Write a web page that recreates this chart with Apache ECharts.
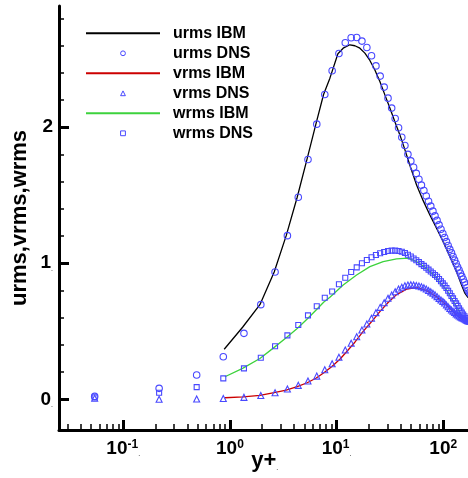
<!DOCTYPE html>
<html>
<head>
<meta charset="utf-8">
<script src="https://cdn.jsdelivr.net/npm/echarts@6.0.0/dist/echarts.min.js"></script>
<style>html,body{margin:0;padding:0;background:#fff}#c{width:468px;height:478px}</style>
</head>
<body>
<div id="c"></div>
<script>
// ---- DNS wall-normal positions (y+) ----
const dnsYPlus = [0.054,0.217,0.488,0.867,1.354,1.948,2.650,3.459,4.374,5.394,6.520,7.751,9.085,10.52,12.06,13.70,15.44,17.28,19.22,21.25,23.38,25.61,27.93,30.34,32.84,35.42,38.10,40.86,43.70,46.63,49.64,52.72,55.88,59.12,62.43,65.81,69.26,72.77,76.36,80.00,83.70,87.46,91.28,95.15,99.07,103.0,107.1,111.1,115.2,119.4,123.5,127.7,132.0,136.3,140.6,144.9,149.2,153.6,158.0,162.4,166.8,171.2,175.6,180.0];
const urmsDNS = [0.022,0.081,0.179,0.313,0.485,0.696,0.936,1.203,1.485,1.762,2.022,2.240,2.414,2.541,2.620,2.657,2.659,2.632,2.585,2.524,2.450,2.375,2.294,2.213,2.140,2.063,1.995,1.926,1.865,1.800,1.752,1.705,1.660,1.617,1.574,1.534,1.494,1.456,1.420,1.383,1.348,1.315,1.282,1.250,1.219,1.189,1.159,1.131,1.102,1.076,1.050,1.023,0.998,0.973,0.950,0.927,0.904,0.882,0.860,0.840,0.820,0.800,0.785,0.775];
const vrmsDNS = [0.008,0.001,0.003,0.006,0.015,0.029,0.049,0.076,0.103,0.135,0.171,0.218,0.262,0.309,0.363,0.412,0.460,0.510,0.554,0.596,0.637,0.676,0.710,0.743,0.767,0.791,0.811,0.824,0.835,0.840,0.842,0.840,0.837,0.833,0.827,0.820,0.811,0.800,0.790,0.780,0.768,0.755,0.742,0.730,0.720,0.708,0.694,0.680,0.668,0.657,0.648,0.638,0.628,0.620,0.613,0.606,0.600,0.596,0.590,0.585,0.580,0.577,0.575,0.574];
const wrmsDNS = [0.015,0.049,0.090,0.154,0.228,0.306,0.390,0.470,0.546,0.617,0.684,0.747,0.793,0.846,0.894,0.936,0.970,1.000,1.024,1.044,1.061,1.074,1.083,1.090,1.093,1.093,1.090,1.085,1.075,1.063,1.050,1.035,1.022,1.008,0.994,0.981,0.967,0.953,0.940,0.927,0.914,0.901,0.884,0.868,0.852,0.836,0.818,0.798,0.780,0.760,0.742,0.723,0.705,0.687,0.670,0.653,0.637,0.624,0.611,0.598,0.587,0.580,0.576,0.575];

// ---- IBM curves ----
const ibmUYPlus = [0.884,1.315,1.911,2.601,3.371,4.273,5.27,6.397,7.55,8.656,10.29,11.53,13.32,14.84,16.53,18.42,20.52,22.85,25.46,28.36,31.59,35.19,39.2,42.73,48.64,56.21,64.8,74.89,86.51,99.78,115.3,133.2,148.4,159.4,170.1,180];
const urmsIBM = [0.368,0.53,0.696,0.936,1.203,1.485,1.762,2.022,2.24,2.36,2.539,2.58,2.605,2.598,2.58,2.544,2.49,2.42,2.335,2.237,2.14,2.04,1.943,1.857,1.72,1.575,1.46,1.355,1.257,1.159,1.049,0.938,0.84,0.78,0.75,0.74];
const ibmVYPlus = [0.898,1.332,1.911,2.601,3.371,4.273,5.302,6.397,7.603,8.979,10.74,12.41,14.84,17.76,21.24,25.46,30.25,36.51,45.29,56.21,69.73,86.51,107.4,133.2,165.4,180];
const vrmsIBM = [0.012,0.019,0.029,0.049,0.068,0.093,0.122,0.155,0.195,0.24,0.295,0.35,0.42,0.50,0.57,0.645,0.71,0.77,0.81,0.821,0.80,0.754,0.693,0.62,0.563,0.555];
const ibmWYPlus = [0.898,1.315,1.911,2.601,3.371,4.273,5.302,6.397,7.603,8.656,11.53,15.40,20.52,27.34,36.51,46.88,56.21,69.73,86.51,107.4,133.2,165.4,180];
const wrmsIBM = [0.166,0.228,0.30,0.382,0.453,0.52,0.59,0.655,0.715,0.75,0.84,0.914,0.975,1.012,1.032,1.037,1.012,0.963,0.89,0.804,0.68,0.56,0.55];

// ---- ticks / labels ----
const xMajorTicks = [0.1, 1, 10, 100];
const xTickExps = ['-1', '0', '1', '2'];
const xTickDots = ['.', '', '.', ''];
const xMinorTicks = [0.03,0.04,0.05,0.06,0.07,0.08,0.09,0.2,0.3,0.4,0.5,0.6,0.7,0.8,0.9,2,3,4,5,6,7,8,9,20,30,40,50,60,70,80,90];
const yMajorTicks = [0, 1, 2];
const yTickLabels = ['0', '1', '2'];
const yTickDots = ['.', '.', ''];
const yMinorTicks = [0.2,0.4,0.6,0.8,1.2,1.4,1.6,1.8,2.2,2.4,2.6,2.8];
const seriesNames = ['urms IBM','urms DNS','vrms IBM','vrms DNS','wrms IBM','wrms DNS'];

const FONT = '"Liberation Sans", Arial, sans-serif';
const BLUE = '#4848ff';
const CLEAR = 'rgba(0,0,0,0)';
const pairs = (xs, ys) => xs.map((x, i) => [x, ys[i]]);

function ibm(name, xs, ys, color) {
  return { name, type: 'line', xAxisIndex: 0, yAxisIndex: 0, data: pairs(xs, ys), symbol: 'none',
    lineStyle: { color, width: 1.3 }, itemStyle: { color }, animation: false, z: 2, silent: true };
}
function dns(name, ys, symbol, size) {
  return { name, type: 'line', xAxisIndex: 0, yAxisIndex: 0, data: pairs(dnsYPlus, ys), symbol, symbolSize: size,
    showSymbol: true, lineStyle: { opacity: 0, width: 0 },
    itemStyle: { color: CLEAR, borderColor: BLUE, borderWidth: 1.1 }, animation: false, z: 3, silent: true };
}
const dnsLegendStyle = { color: CLEAR, borderColor: BLUE, borderWidth: 1 };

const chart = echarts.init(document.getElementById('c'), null, { renderer: 'canvas' });
const xMin = 0.025, xMax = 180, yMin = -0.225, yMax = 2.89;

chart.setOption({
  animation: false,
  backgroundColor: '#fff',
  textStyle: { fontFamily: FONT },
  grid: { left: 59, top: 6, right: -2.5, bottom: 48, outerBoundsMode: 'none', containLabel: false },
  legend: {
    orient: 'vertical', left: 85, top: 25.3, padding: 0, itemWidth: 74, itemHeight: 6, itemGap: 4.0,
    selectedMode: false,
    textStyle: { fontFamily: FONT, fontWeight: 'bold', fontSize: 16, color: '#000', padding: [0, 0, 0, 8] },
    data: [
      { name: seriesNames[0], itemStyle: { opacity: 0 } },
      { name: seriesNames[1], lineStyle: { opacity: 0 }, itemStyle: dnsLegendStyle },
      { name: seriesNames[2], itemStyle: { opacity: 0 } },
      { name: seriesNames[3], lineStyle: { opacity: 0 }, itemStyle: dnsLegendStyle },
      { name: seriesNames[4], itemStyle: { opacity: 0 } },
      { name: seriesNames[5], lineStyle: { opacity: 0 }, itemStyle: dnsLegendStyle }
    ]
  },
  xAxis: [{
    type: 'log', logBase: 10, min: xMin, max: xMax, position: 'bottom',
    axisLine: { show: true, onZero: false, lineStyle: { color: '#000', width: 3 } },
    axisTick: { show: true, inside: true, length: 10, lineStyle: { color: '#000', width: 3 }, customValues: xMajorTicks },
    minorTick: { show: false }, splitLine: { show: false },
    axisLabel: {
      customValues: xMajorTicks, margin: 9, color: '#000',
      formatter: function (v) {
        const e = Math.round(Math.log10(v));
        const i = xMajorTicks.findIndex(t => Math.round(Math.log10(t)) === e);
        return '{b|10}{s|' + xTickExps[i] + '}' + (xTickDots[i] ? '{d|' + xTickDots[i] + '}' : '');
      },
      rich: {
        b: { fontFamily: FONT, fontWeight: 'bold', fontSize: 19, color: '#000' },
        s: { fontFamily: FONT, fontWeight: 'bold', fontSize: 12, color: '#000', verticalAlign: 'top' },
        d: { fontFamily: FONT, fontSize: 7, color: '#000', verticalAlign: 'bottom' }
      }
    },
    name: '{n|y+}{d|.}', nameLocation: 'middle', nameGap: 20, nameMoveOverlap: false,
    nameTextStyle: { rich: {
      n: { fontFamily: FONT, fontWeight: 'bold', fontSize: 22, color: '#000' },
      d: { fontFamily: FONT, fontSize: 7, color: '#000', verticalAlign: 'bottom' }
    } }
  }, {
    type: 'log', logBase: 10, min: xMin, max: xMax, position: 'bottom',
    axisLine: { show: false, onZero: false },
    axisTick: { show: true, inside: true, length: 6, lineStyle: { color: '#000', width: 1.5 }, customValues: xMinorTicks },
    axisLabel: { show: false }, splitLine: { show: false }
  }],
  yAxis: [{
    type: 'value', min: yMin, max: yMax, position: 'left',
    axisLine: { show: true, onZero: false, lineStyle: { color: '#000', width: 3 } },
    axisTick: { show: true, inside: true, length: 10, lineStyle: { color: '#000', width: 3 }, customValues: yMajorTicks },
    splitLine: { show: false },
    axisLabel: {
      customValues: yMajorTicks, margin: 6, color: '#000',
      formatter: function (v) {
        const i = yMajorTicks.findIndex(t => Math.abs(t - v) < 1e-9);
        return '{b|' + yTickLabels[i] + '}' + (yTickDots[i] ? '{d|' + yTickDots[i] + '}' : '');
      },
      rich: {
        b: { fontFamily: FONT, fontWeight: 'bold', fontSize: 19, color: '#000' },
        d: { fontFamily: FONT, fontSize: 7, color: '#000', verticalAlign: 'bottom' }
      }
    },
    name: 'urms,vrms,wrms', nameLocation: 'middle', nameGap: 28, nameMoveOverlap: false,
    nameTextStyle: { fontFamily: FONT, fontWeight: 'bold', fontSize: 22, color: '#000' }
  }, {
    type: 'value', min: yMin, max: yMax, position: 'left',
    axisLine: { show: false, onZero: false },
    axisTick: { show: true, inside: true, length: 5, lineStyle: { color: '#000', width: 1.5 }, customValues: yMinorTicks },
    axisLabel: { show: false }, splitLine: { show: false }
  }],
  series: [
    ibm(seriesNames[0], ibmUYPlus, urmsIBM, '#000000'),
    dns(seriesNames[1], urmsDNS, 'circle', 6.5),
    ibm(seriesNames[2], ibmVYPlus, vrmsIBM, '#cc0000'),
    dns(seriesNames[3], vrmsDNS, 'triangle', 6),
    ibm(seriesNames[4], ibmWYPlus, wrmsIBM, '#3cd23c'),
    dns(seriesNames[5], wrmsDNS, 'rect', 5)
  ]
});
</script>
</body>
</html>
